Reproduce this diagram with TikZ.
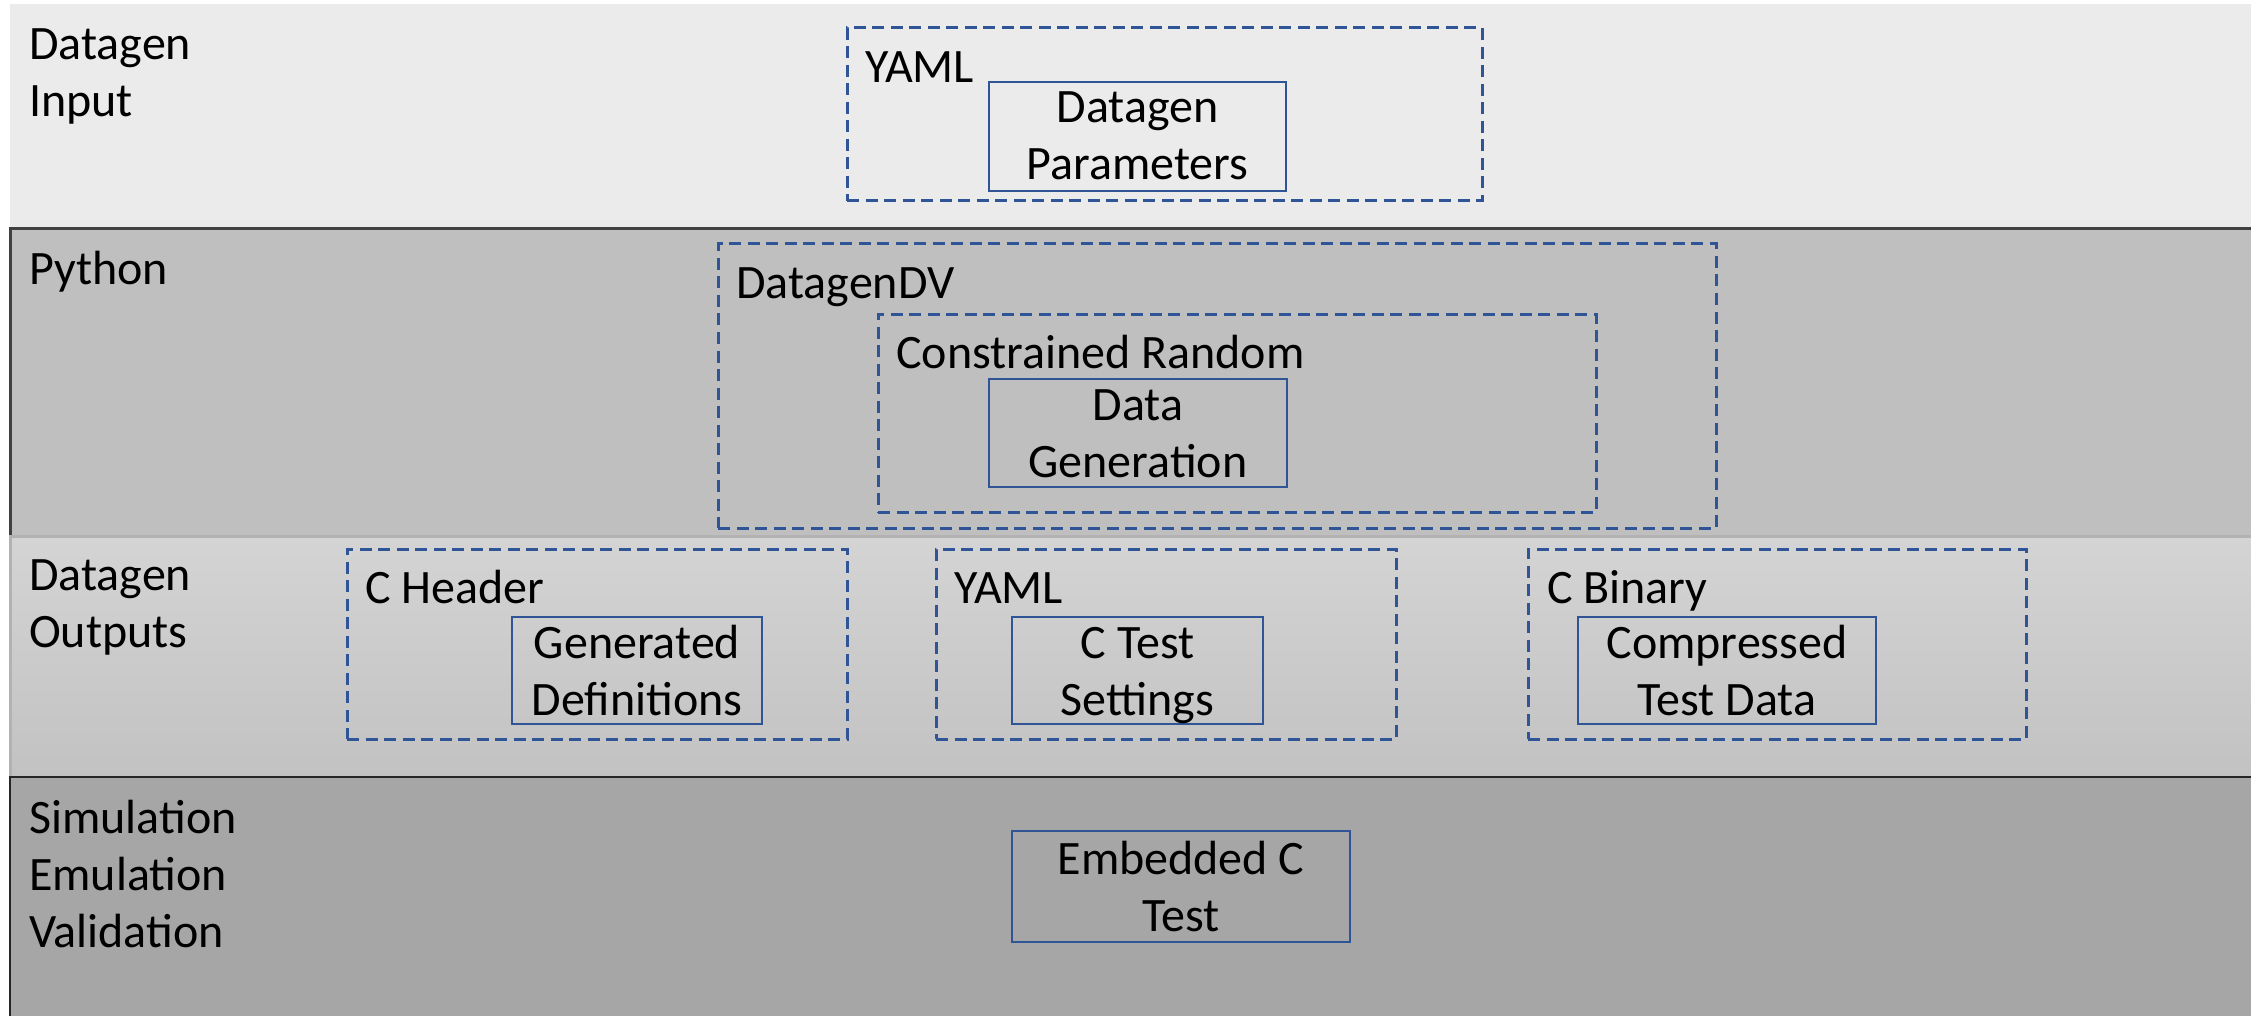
\documentclass[tikz,border=0pt]{standalone}
\usepackage{fontspec}
\setmainfont{Carlito}
\definecolor{dgblue}{HTML}{2F5597}
\definecolor{bandA}{HTML}{EBEBEB}
\definecolor{bandB}{HTML}{BFBFBF}
\definecolor{bandCtop}{HTML}{D4D4D4}
\definecolor{bandCbot}{HTML}{C2C2C2}
\definecolor{bandD}{HTML}{A6A6A6}
\newcommand\dgfont{\fontsize{48}{57}\selectfont}
\tikzset{
  dashbox/.style={draw=dgblue, line width=3pt, dash pattern=on 12pt off 6.5pt, inner sep=0pt},
  solidbox/.style={draw=dgblue, line width=2.8pt, inner sep=0pt},
  boxtext/.style={align=center, inner sep=0pt, anchor=north, font=\dgfont},
  title/.style={align=left, inner sep=0pt, anchor=north west, font=\dgfont},
}
\begin{document}
\begin{tikzpicture}[x=1pt,y=-1pt]
\clip (0,0) rectangle (2251,1016);
\fill[white] (0,0) rectangle (2251,1016);
% bands
\path[fill=bandA] (10,4) rectangle (2270,229);
\path[fill=bandB, draw=black!75, line width=3pt] (10,229) rectangle (2270,536);
\path[top color=bandCtop, bottom color=bandCbot, draw=black!30, line width=3pt] (10,536) rectangle (2270,777);
\path[fill=bandD, draw=black!85, line width=2.5pt] (10,777) rectangle (2270,1040);
% band labels
\node[title] (lin) at (29,19.1) {\strut Datagen\\\strut Input};
\node[title] (lpy) at (29,244.1) {\strut Python};
\node[title] (lout) at (29,550.1) {\strut Datagen\\\strut Outputs};
\node[title] (lsim) at (29,793.1) {\strut Simulation\\\strut Emulation\\\strut Validation};
% Datagen input
\node[dashbox, minimum width=635pt, minimum height=173pt] (yamlin) at (1164.5,114.5) {};
\node[title] (yamlinT) at (865,42.1) {\strut YAML};
\node[solidbox, minimum width=297pt, minimum height=109pt] (params) at (1137.5,136.5) {};
\node[boxtext] (paramsT) at (1137.5,82.1) {\strut Datagen\\\strut Parameters};
% Python
\node[dashbox, minimum width=998pt, minimum height=284pt] (dv) at (1217,386) {};
\node[title] (dvT) at (736,258.1) {\strut DatagenDV};
\node[dashbox, minimum width=718pt, minimum height=198pt] (cr) at (1237,413) {};
\node[title] (crT) at (896,328.1) {\strut Constrained Random};
\node[solidbox, minimum width=298pt, minimum height=108pt] (dg) at (1138,433) {};
\node[boxtext] (dgT) at (1138,380.1) {\strut Data\\\strut Generation};
% Outputs
\node[dashbox, minimum width=500pt, minimum height=190pt] (ch) at (597,644) {};
\node[title] (chT) at (365,563.1) {\strut C Header};
\node[solidbox, minimum width=250pt, minimum height=107pt] (gd) at (637,670.5) {};
\node[boxtext] (gdT) at (637,618.1) {\strut Generated\\\strut Definitions};
\node[dashbox, minimum width=460pt, minimum height=190pt] (yamlout) at (1166,644) {};
\node[title] (yamloutT) at (954,563.1) {\strut YAML};
\node[solidbox, minimum width=251pt, minimum height=107pt] (cts) at (1137.5,670.5) {};
\node[boxtext] (ctsT) at (1137.5,618.1) {\strut C Test\\\strut Settings};
\node[dashbox, minimum width=498pt, minimum height=190pt] (cb) at (1777,644) {};
\node[title] (cbT) at (1547,563.1) {\strut C Binary};
\node[solidbox, minimum width=298pt, minimum height=107pt] (ctd) at (1727,670.5) {};
\node[boxtext] (ctdT) at (1727,618.1) {\strut Compressed\\\strut Test Data};
% Simulation
\node[solidbox, minimum width=338pt, minimum height=111pt] (ect) at (1181,886.5) {};
\node[boxtext] (ectT) at (1181,834.1) {\strut Embedded C\\\strut Test};
\end{tikzpicture}
\end{document}
